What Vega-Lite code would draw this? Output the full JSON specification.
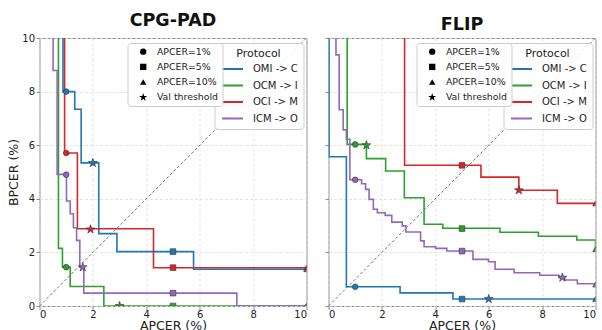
{
  "$schema": "https://vega.github.io/schema/vega-lite/v6.json",
  "padding": {"left": 6.5, "top": 11, "right": 0, "bottom": 0},
  "datasets": {
    "diag": [{"x": 0, "y": 0}, {"x": 10, "y": 10}],
    "curves": [
      {"p": "CPG-PAD", "g": "OMI -> C", "i": 0, "x": 0.88, "y": 10},
      {"p": "CPG-PAD", "g": "OMI -> C", "i": 1, "x": 0.88, "y": 8.0},
      {"p": "CPG-PAD", "g": "OMI -> C", "i": 2, "x": 1.32, "y": 7.34},
      {"p": "CPG-PAD", "g": "OMI -> C", "i": 3, "x": 1.56, "y": 5.34},
      {"p": "CPG-PAD", "g": "OMI -> C", "i": 4, "x": 2.22, "y": 2.70},
      {"p": "CPG-PAD", "g": "OMI -> C", "i": 5, "x": 2.90, "y": 2.03},
      {"p": "CPG-PAD", "g": "OMI -> C", "i": 6, "x": 5.77, "y": 1.37},
      {"p": "CPG-PAD", "g": "OMI -> C", "i": 7, "x": 10, "y": 1.37},
      {"p": "CPG-PAD", "g": "OCM -> I", "i": 0, "x": 0.71, "y": 10},
      {"p": "CPG-PAD", "g": "OCM -> I", "i": 1, "x": 0.71, "y": 2.15},
      {"p": "CPG-PAD", "g": "OCM -> I", "i": 2, "x": 0.86, "y": 1.45},
      {"p": "CPG-PAD", "g": "OCM -> I", "i": 3, "x": 1.15, "y": 0.73},
      {"p": "CPG-PAD", "g": "OCM -> I", "i": 4, "x": 2.41, "y": 0},
      {"p": "CPG-PAD", "g": "OCM -> I", "i": 5, "x": 10, "y": 0},
      {"p": "CPG-PAD", "g": "OCI -> M", "i": 0, "x": 0.94, "y": 10},
      {"p": "CPG-PAD", "g": "OCI -> M", "i": 1, "x": 0.94, "y": 5.71},
      {"p": "CPG-PAD", "g": "OCI -> M", "i": 2, "x": 1.42, "y": 2.88},
      {"p": "CPG-PAD", "g": "OCI -> M", "i": 3, "x": 4.27, "y": 1.43},
      {"p": "CPG-PAD", "g": "OCI -> M", "i": 4, "x": 10, "y": 1.43},
      {"p": "CPG-PAD", "g": "ICM -> O", "i": 0, "x": 0.51, "y": 10},
      {"p": "CPG-PAD", "g": "ICM -> O", "i": 1, "x": 0.51, "y": 8.79},
      {"p": "CPG-PAD", "g": "ICM -> O", "i": 2, "x": 0.66, "y": 4.91},
      {"p": "CPG-PAD", "g": "ICM -> O", "i": 3, "x": 1.01, "y": 3.92},
      {"p": "CPG-PAD", "g": "ICM -> O", "i": 4, "x": 1.15, "y": 3.44},
      {"p": "CPG-PAD", "g": "ICM -> O", "i": 5, "x": 1.27, "y": 2.92},
      {"p": "CPG-PAD", "g": "ICM -> O", "i": 6, "x": 1.39, "y": 2.45},
      {"p": "CPG-PAD", "g": "ICM -> O", "i": 7, "x": 1.51, "y": 1.45},
      {"p": "CPG-PAD", "g": "ICM -> O", "i": 8, "x": 1.66, "y": 0.48},
      {"p": "CPG-PAD", "g": "ICM -> O", "i": 9, "x": 7.39, "y": 0},
      {"p": "CPG-PAD", "g": "ICM -> O", "i": 10, "x": 10, "y": 0},
      {"p": "FLIP", "g": "OMI -> C", "i": 0, "x": 0.02, "y": 10},
      {"p": "FLIP", "g": "OMI -> C", "i": 1, "x": 0.02, "y": 5.57},
      {"p": "FLIP", "g": "OMI -> C", "i": 2, "x": 0.67, "y": 0.72},
      {"p": "FLIP", "g": "OMI -> C", "i": 3, "x": 2.68, "y": 0.49},
      {"p": "FLIP", "g": "OMI -> C", "i": 4, "x": 4.66, "y": 0.26},
      {"p": "FLIP", "g": "OMI -> C", "i": 5, "x": 10, "y": 0.26},
      {"p": "FLIP", "g": "OCM -> I", "i": 0, "x": 0.70, "y": 10},
      {"p": "FLIP", "g": "OCM -> I", "i": 1, "x": 0.70, "y": 6.03},
      {"p": "FLIP", "g": "OCM -> I", "i": 2, "x": 1.42, "y": 5.5},
      {"p": "FLIP", "g": "OCM -> I", "i": 3, "x": 2.14, "y": 5.04},
      {"p": "FLIP", "g": "OCM -> I", "i": 4, "x": 2.84, "y": 4.04},
      {"p": "FLIP", "g": "OCM -> I", "i": 5, "x": 3.58, "y": 3.05},
      {"p": "FLIP", "g": "OCM -> I", "i": 6, "x": 4.28, "y": 2.90},
      {"p": "FLIP", "g": "OCM -> I", "i": 7, "x": 6.42, "y": 2.75},
      {"p": "FLIP", "g": "OCM -> I", "i": 8, "x": 7.86, "y": 2.60},
      {"p": "FLIP", "g": "OCM -> I", "i": 9, "x": 9.30, "y": 2.46},
      {"p": "FLIP", "g": "OCM -> I", "i": 10, "x": 10, "y": 2.12},
      {"p": "FLIP", "g": "OCI -> M", "i": 0, "x": 2.85, "y": 10},
      {"p": "FLIP", "g": "OCI -> M", "i": 1, "x": 2.85, "y": 5.25},
      {"p": "FLIP", "g": "OCI -> M", "i": 2, "x": 5.71, "y": 4.81},
      {"p": "FLIP", "g": "OCI -> M", "i": 3, "x": 7.13, "y": 4.32},
      {"p": "FLIP", "g": "OCI -> M", "i": 4, "x": 8.57, "y": 3.83},
      {"p": "FLIP", "g": "OCI -> M", "i": 5, "x": 10, "y": 3.83},
      {"p": "FLIP", "g": "ICM -> O", "i": 0, "x": 0.28, "y": 10},
      {"p": "FLIP", "g": "ICM -> O", "i": 1, "x": 0.28, "y": 9.37},
      {"p": "FLIP", "g": "ICM -> O", "i": 2, "x": 0.40, "y": 7.32},
      {"p": "FLIP", "g": "ICM -> O", "i": 3, "x": 0.55, "y": 6.57},
      {"p": "FLIP", "g": "ICM -> O", "i": 4, "x": 0.67, "y": 6.22},
      {"p": "FLIP", "g": "ICM -> O", "i": 5, "x": 0.80, "y": 4.71},
      {"p": "FLIP", "g": "ICM -> O", "i": 6, "x": 1.24, "y": 4.56},
      {"p": "FLIP", "g": "ICM -> O", "i": 7, "x": 1.39, "y": 4.35},
      {"p": "FLIP", "g": "ICM -> O", "i": 8, "x": 1.52, "y": 3.98},
      {"p": "FLIP", "g": "ICM -> O", "i": 9, "x": 1.68, "y": 3.61},
      {"p": "FLIP", "g": "ICM -> O", "i": 10, "x": 1.83, "y": 3.48},
      {"p": "FLIP", "g": "ICM -> O", "i": 11, "x": 2.12, "y": 3.38},
      {"p": "FLIP", "g": "ICM -> O", "i": 12, "x": 2.37, "y": 3.13},
      {"p": "FLIP", "g": "ICM -> O", "i": 13, "x": 2.76, "y": 2.99},
      {"p": "FLIP", "g": "ICM -> O", "i": 14, "x": 2.90, "y": 2.76},
      {"p": "FLIP", "g": "ICM -> O", "i": 15, "x": 3.45, "y": 2.43},
      {"p": "FLIP", "g": "ICM -> O", "i": 16, "x": 3.58, "y": 2.21},
      {"p": "FLIP", "g": "ICM -> O", "i": 17, "x": 4.01, "y": 2.15},
      {"p": "FLIP", "g": "ICM -> O", "i": 18, "x": 4.43, "y": 2.05},
      {"p": "FLIP", "g": "ICM -> O", "i": 19, "x": 5.41, "y": 1.74},
      {"p": "FLIP", "g": "ICM -> O", "i": 20, "x": 5.99, "y": 1.65},
      {"p": "FLIP", "g": "ICM -> O", "i": 21, "x": 6.24, "y": 1.37},
      {"p": "FLIP", "g": "ICM -> O", "i": 22, "x": 6.95, "y": 1.24},
      {"p": "FLIP", "g": "ICM -> O", "i": 23, "x": 7.91, "y": 1.15},
      {"p": "FLIP", "g": "ICM -> O", "i": 24, "x": 8.63, "y": 1.06},
      {"p": "FLIP", "g": "ICM -> O", "i": 25, "x": 8.85, "y": 0.97},
      {"p": "FLIP", "g": "ICM -> O", "i": 26, "x": 9.32, "y": 0.83},
      {"p": "FLIP", "g": "ICM -> O", "i": 27, "x": 10, "y": 0.80}
    ],
    "marks": [
      {"p": "CPG-PAD", "g": "OMI -> C", "m": "APCER=1%", "x": 1, "y": 8.0},
      {"p": "CPG-PAD", "g": "OCM -> I", "m": "APCER=1%", "x": 1, "y": 1.45},
      {"p": "CPG-PAD", "g": "OCI -> M", "m": "APCER=1%", "x": 1, "y": 5.71},
      {"p": "CPG-PAD", "g": "ICM -> O", "m": "APCER=1%", "x": 1, "y": 4.9},
      {"p": "CPG-PAD", "g": "OMI -> C", "m": "APCER=5%", "x": 5, "y": 2.03},
      {"p": "CPG-PAD", "g": "OCM -> I", "m": "APCER=5%", "x": 5, "y": 0},
      {"p": "CPG-PAD", "g": "OCI -> M", "m": "APCER=5%", "x": 5, "y": 1.43},
      {"p": "CPG-PAD", "g": "ICM -> O", "m": "APCER=5%", "x": 5, "y": 0.48},
      {"p": "CPG-PAD", "g": "OMI -> C", "m": "APCER=10%", "x": 10, "y": 1.37},
      {"p": "CPG-PAD", "g": "OCM -> I", "m": "APCER=10%", "x": 10, "y": 0},
      {"p": "CPG-PAD", "g": "OCI -> M", "m": "APCER=10%", "x": 10, "y": 1.43},
      {"p": "CPG-PAD", "g": "ICM -> O", "m": "APCER=10%", "x": 10, "y": 0},
      {"p": "CPG-PAD", "g": "OMI -> C", "m": "Val threshold", "x": 2.0, "y": 5.34},
      {"p": "CPG-PAD", "g": "OCM -> I", "m": "Val threshold", "x": 3.0, "y": 0},
      {"p": "CPG-PAD", "g": "OCI -> M", "m": "Val threshold", "x": 1.91, "y": 2.86},
      {"p": "CPG-PAD", "g": "ICM -> O", "m": "Val threshold", "x": 1.62, "y": 1.45},
      {"p": "FLIP", "g": "OMI -> C", "m": "APCER=1%", "x": 1, "y": 0.72},
      {"p": "FLIP", "g": "OCM -> I", "m": "APCER=1%", "x": 1, "y": 6.03},
      {"p": "FLIP", "g": "ICM -> O", "m": "APCER=1%", "x": 1, "y": 4.71},
      {"p": "FLIP", "g": "OMI -> C", "m": "APCER=5%", "x": 5, "y": 0.26},
      {"p": "FLIP", "g": "OCM -> I", "m": "APCER=5%", "x": 5, "y": 2.89},
      {"p": "FLIP", "g": "OCI -> M", "m": "APCER=5%", "x": 5, "y": 5.25},
      {"p": "FLIP", "g": "ICM -> O", "m": "APCER=5%", "x": 5, "y": 2.05},
      {"p": "FLIP", "g": "OMI -> C", "m": "APCER=10%", "x": 10, "y": 0.26},
      {"p": "FLIP", "g": "OCM -> I", "m": "APCER=10%", "x": 10, "y": 2.12},
      {"p": "FLIP", "g": "OCI -> M", "m": "APCER=10%", "x": 10, "y": 3.83},
      {"p": "FLIP", "g": "ICM -> O", "m": "APCER=10%", "x": 10, "y": 0.80},
      {"p": "FLIP", "g": "OMI -> C", "m": "Val threshold", "x": 6.0, "y": 0.26},
      {"p": "FLIP", "g": "OCM -> I", "m": "Val threshold", "x": 1.42, "y": 6.0},
      {"p": "FLIP", "g": "OCI -> M", "m": "Val threshold", "x": 7.13, "y": 4.32},
      {"p": "FLIP", "g": "ICM -> O", "m": "Val threshold", "x": 8.76, "y": 1.06}
    ]
  },
  "spacing": 22,
  "bounds": "flush",
  "resolve": {
    "scale": {"color": "independent", "shape": "independent"},
    "legend": {"color": "independent", "shape": "independent"}
  },
  "hconcat": [
    {
      "width": 267,
      "height": 268,
      "title": {"text": "CPG-PAD"},
      "encoding": {
        "x": {"field": "x", "type": "quantitative", "scale": {"domain": [0, 10], "nice": false, "zero": false}, "axis": {"values": [0, 2, 4, 6, 8, 10], "title": "APCER (%)"}},
        "y": {"field": "y", "type": "quantitative", "scale": {"domain": [0, 10], "nice": false, "zero": false}, "axis": {"values": [0, 2, 4, 6, 8, 10], "title": "BPCER (%)"}}
      },
      "layer": [
        {"data": {"name": "diag"}, "mark": {"type": "line", "stroke": "#555555", "strokeWidth": 0.8, "strokeDash": [3, 2], "clip": true}},
        {
          "data": {"name": "curves"},
          "transform": [{"filter": "datum.p === 'CPG-PAD'"}],
          "mark": {"type": "line", "interpolate": "step-after", "strokeWidth": 1.6, "clip": true},
          "encoding": {
            "color": {"field": "g", "type": "nominal", "scale": {"domain": ["OMI -> C", "OCM -> I", "OCI -> M", "ICM -> O"], "range": ["#1f77b4", "#2ca02c", "#d62728", "#9467bd"]},
              "legend": {"title": "Protocol", "orient": "none", "legendX": 175, "legendY": 5, "symbolType": "M-1,0H3.2", "symbolSize": 100, "symbolStrokeWidth": 2, "symbolOffset": 1.5, "labelOffset": 20, "labelFontSize": 10, "titleFontSize": 11, "titleFontWeight": "normal", "titleAnchor": "middle", "titlePadding": 4, "rowPadding": 5.5}},
            "order": {"field": "i", "type": "quantitative"}
          }
        },
        {
          "data": {"name": "marks"},
          "transform": [{"filter": "datum.p === 'CPG-PAD' && datum.m !== 'Val threshold'"}],
          "mark": {"type": "point", "filled": true, "opacity": 1, "size": 32, "stroke": "#333333", "strokeWidth": 0.6, "clip": true},
          "encoding": {
            "color": {"field": "g", "type": "nominal", "legend": null},
            "shape": {"field": "m", "type": "nominal", "scale": {"domain": ["APCER=1%", "APCER=5%", "APCER=10%", "Val threshold"], "range": ["circle", "square", "triangle-up", "M0,-1.35L0.304,-0.417L1.284,-0.417L0.49,0.159L0.794,1.092L0,0.516L-0.794,1.092L-0.49,0.159L-1.284,-0.417L-0.304,-0.417Z"]},
              "legend": {"title": null, "orient": "none", "legendX": 88, "legendY": 5, "symbolSize": 40, "symbolFillColor": "black", "symbolStrokeColor": "black", "symbolStrokeWidth": 0, "symbolOffset": 7, "labelOffset": 9, "labelFontSize": 9.4, "rowPadding": 4.2, "padding": 4}}
          }
        },
        {
          "data": {"name": "marks"},
          "transform": [{"filter": "datum.p === 'CPG-PAD' && datum.m === 'Val threshold'"}],
          "mark": {"type": "point", "filled": true, "opacity": 1, "size": 47, "stroke": "#333333", "strokeWidth": 0.6, "clip": true},
          "encoding": {
            "color": {"field": "g", "type": "nominal", "legend": null},
            "shape": {"field": "m", "type": "nominal",
              "legend": {"title": null, "orient": "none", "legendX": 88, "legendY": 5, "symbolSize": 40, "symbolFillColor": "black", "symbolStrokeColor": "black", "symbolStrokeWidth": 0, "symbolOffset": 7, "labelOffset": 9, "labelFontSize": 9.4, "rowPadding": 4.2, "padding": 4}}
          }
        }
      ]
    },
    {
      "width": 267,
      "height": 268,
      "title": {"text": "FLIP"},
      "encoding": {
        "x": {"field": "x", "type": "quantitative", "scale": {"domain": [0, 10], "nice": false, "zero": false}, "axis": {"values": [0, 2, 4, 6, 8, 10], "title": "APCER (%)"}},
        "y": {"field": "y", "type": "quantitative", "scale": {"domain": [0, 10], "nice": false, "zero": false}, "axis": {"values": [0, 2, 4, 6, 8, 10], "title": null, "labels": false}}
      },
      "layer": [
        {"data": {"name": "diag"}, "mark": {"type": "line", "stroke": "#555555", "strokeWidth": 0.8, "strokeDash": [3, 2], "clip": true}},
        {
          "data": {"name": "curves"},
          "transform": [{"filter": "datum.p === 'FLIP'"}],
          "mark": {"type": "line", "interpolate": "step-after", "strokeWidth": 1.6, "clip": true},
          "encoding": {
            "color": {"field": "g", "type": "nominal", "scale": {"domain": ["OMI -> C", "OCM -> I", "OCI -> M", "ICM -> O"], "range": ["#1f77b4", "#2ca02c", "#d62728", "#9467bd"]},
              "legend": {"title": "Protocol", "orient": "none", "legendX": 175, "legendY": 5, "symbolType": "M-1,0H3.2", "symbolSize": 100, "symbolStrokeWidth": 2, "symbolOffset": 1.5, "labelOffset": 20, "labelFontSize": 10, "titleFontSize": 11, "titleFontWeight": "normal", "titleAnchor": "middle", "titlePadding": 4, "rowPadding": 5.5}},
            "order": {"field": "i", "type": "quantitative"}
          }
        },
        {
          "data": {"name": "marks"},
          "transform": [{"filter": "datum.p === 'FLIP' && datum.m !== 'Val threshold'"}],
          "mark": {"type": "point", "filled": true, "opacity": 1, "size": 32, "stroke": "#333333", "strokeWidth": 0.6, "clip": true},
          "encoding": {
            "color": {"field": "g", "type": "nominal", "legend": null},
            "shape": {"field": "m", "type": "nominal", "scale": {"domain": ["APCER=1%", "APCER=5%", "APCER=10%", "Val threshold"], "range": ["circle", "square", "triangle-up", "M0,-1.35L0.304,-0.417L1.284,-0.417L0.49,0.159L0.794,1.092L0,0.516L-0.794,1.092L-0.49,0.159L-1.284,-0.417L-0.304,-0.417Z"]},
              "legend": {"title": null, "orient": "none", "legendX": 88, "legendY": 5, "symbolSize": 40, "symbolFillColor": "black", "symbolStrokeColor": "black", "symbolStrokeWidth": 0, "symbolOffset": 7, "labelOffset": 9, "labelFontSize": 9.4, "rowPadding": 4.2, "padding": 4}}
          }
        },
        {
          "data": {"name": "marks"},
          "transform": [{"filter": "datum.p === 'FLIP' && datum.m === 'Val threshold'"}],
          "mark": {"type": "point", "filled": true, "opacity": 1, "size": 47, "stroke": "#333333", "strokeWidth": 0.6, "clip": true},
          "encoding": {
            "color": {"field": "g", "type": "nominal", "legend": null},
            "shape": {"field": "m", "type": "nominal",
              "legend": {"title": null, "orient": "none", "legendX": 88, "legendY": 5, "symbolSize": 40, "symbolFillColor": "black", "symbolStrokeColor": "black", "symbolStrokeWidth": 0, "symbolOffset": 7, "labelOffset": 9, "labelFontSize": 9.4, "rowPadding": 4.2, "padding": 4}}
          }
        }
      ]
    }
  ],
  "config": {
    "font": "DejaVu Sans",
    "view": {"stroke": "#8c8c8c", "strokeWidth": 1},
    "axis": {
      "domain": false, "grid": true, "gridColor": "#dcdcdc", "gridDash": [3, 2], "gridWidth": 0.8,
      "tickColor": "#8c8c8c", "tickSize": 3.5, "labelFontSize": 10, "labelColor": "#222222", "labelPadding": 1.5,
      "titleFontSize": 12.5, "titleFontWeight": "normal", "titleColor": "#222222"
    },
    "axisX": {"titlePadding": 0, "labelPadding": 0},
    "axisY": {"titlePadding": 1},
    "title": {"fontSize": 17.5, "fontWeight": "bold", "color": "#111111", "offset": 4, "anchor": "middle"},
    "legend": {
      "labelFont": "DejaVu Sans", "titleFont": "DejaVu Sans", "labelColor": "#222222", "titleColor": "#222222",
      "strokeColor": "#cccccc", "fillColor": "rgba(255,255,255,0.85)", "cornerRadius": 3, "padding": 5
    }
  }
}
